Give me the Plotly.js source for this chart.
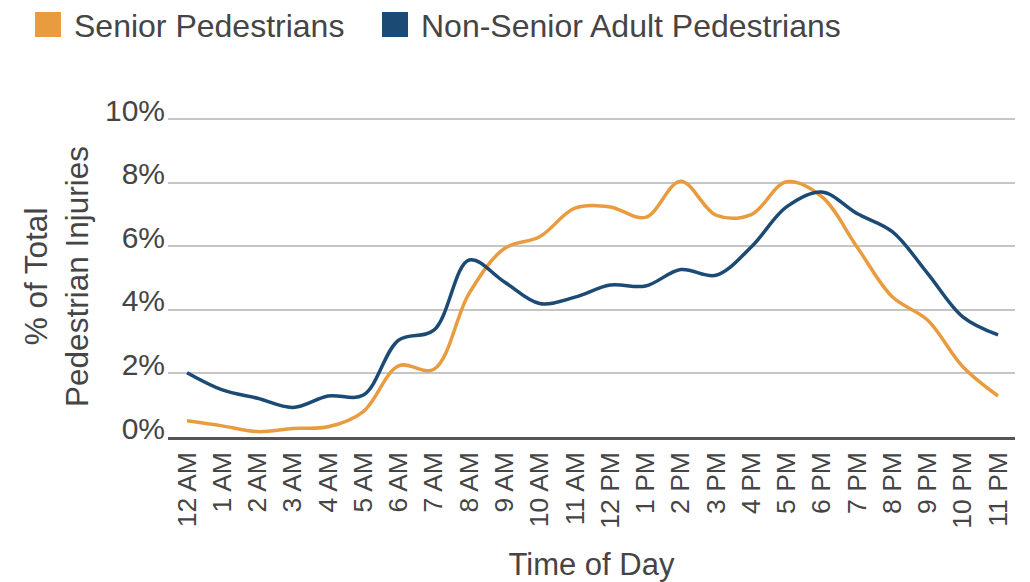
<!DOCTYPE html>
<html>
<head>
<meta charset="utf-8">
<script src="https://cdn.plot.ly/plotly-3.0.1.min.js"></script>
<style>html,body{margin:0;padding:0;background:#fff;}#chart{width:1030px;height:582px;}</style>
</head>
<body>
<div id="chart"></div>
<script>
var hours = ["12 AM","1 AM","2 AM","3 AM","4 AM","5 AM","6 AM","7 AM","8 AM","9 AM","10 AM","11 AM",
             "12 PM","1 PM","2 PM","3 PM","4 PM","5 PM","6 PM","7 PM","8 PM","9 PM","10 PM","11 PM"];
var seniorPct = [0.51,0.35,0.17,0.27,0.32,0.80,2.24,2.13,4.52,5.93,6.30,7.20,
                 7.24,6.91,8.05,6.98,7.00,8.03,7.56,5.98,4.41,3.68,2.21,1.29];
var nonSeniorPct = [2.02,1.48,1.22,0.93,1.29,1.32,3.05,3.36,5.57,4.88,4.20,4.40,
                    4.78,4.75,5.27,5.09,5.98,7.24,7.71,7.03,6.46,5.15,3.78,3.21];
var seriesNames = ["Senior Pedestrians","Non-Senior Adult Pedestrians"];
var colors = ["#E99C3F","#1B4A75"];

var traces = [
  {x: hours, y: seniorPct, name: seriesNames[0], type: "scatter", mode: "lines",
   line: {color: colors[0], width: 3.5, shape: "spline", smoothing: 1}, showlegend: false},
  {x: hours, y: nonSeniorPct, name: seriesNames[1], type: "scatter", mode: "lines",
   line: {color: colors[1], width: 3.5, shape: "spline", smoothing: 1}, showlegend: false}
];

var textColor = "#454545";
var layout = {
  width: 1030, height: 582,
  margin: {l: 168, r: 15, t: 116, b: 145},
  paper_bgcolor: "#fff", plot_bgcolor: "#fff",
  font: {family: "Liberation Sans, Arial, sans-serif", color: textColor},
  xaxis: {
    type: "category", range: [-0.54, 23.48],
    tickangle: -90, tickfont: {size: 26.5, color: textColor},
    showgrid: false, zeroline: false,
    showline: true, linecolor: "#555", linewidth: 2.5,
    ticks: "", ticklabelstandoff: 2,
    title: {text: "Time of Day", font: {size: 31, color: textColor}, standoff: 32}
  },
  yaxis: {
    range: [0, 10.1], tickvals: [0,2,4,6,8,10], ticktext: ["0%","2%","4%","6%","8%","10%"],
    tickfont: {size: 30, color: textColor},
    showgrid: true, gridcolor: "#c6c6c6", gridwidth: 2,
    zeroline: false, showline: false, ticks: "",
    ticklabelshift: -9, ticklabelstandoff: 2,
    title: {text: "% of Total<br>Pedestrian Injuries", font: {size: 31.5, color: textColor}, standoff: 6}
  },
  shapes: [
    {type: "rect", xref: "paper", yref: "paper", xsizemode: "pixel", ysizemode: "pixel",
     xanchor: 0, yanchor: 1, x0: -133, x1: -107, y0: 104, y1: 79,
     fillcolor: colors[0], line: {width: 0}},
    {type: "rect", xref: "paper", yref: "paper", xsizemode: "pixel", ysizemode: "pixel",
     xanchor: 0, yanchor: 1, x0: 214, x1: 240, y0: 104, y1: 79,
     fillcolor: colors[1], line: {width: 0}}
  ],
  annotations: [
    {xref: "paper", yref: "paper", x: 0, y: 1, xshift: -96, yshift: 90, xanchor: "left", yanchor: "middle",
     showarrow: false, text: seriesNames[0], font: {size: 32, color: textColor}},
    {xref: "paper", yref: "paper", x: 0, y: 1, xshift: 251, yshift: 90, xanchor: "left", yanchor: "middle",
     showarrow: false, text: seriesNames[1], font: {size: 32, color: textColor}}
  ],
  showlegend: false
};

Plotly.newPlot("chart", traces, layout, {displayModeBar: false, staticPlot: true});
</script>
</body>
</html>
